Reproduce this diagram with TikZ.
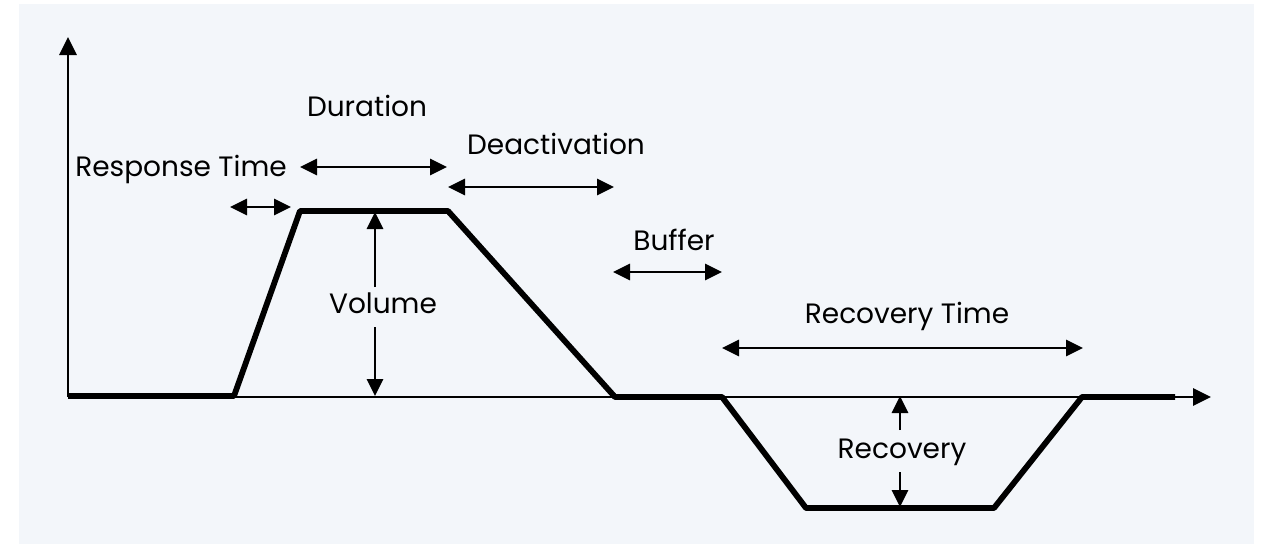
\documentclass[tikz,border=0pt]{standalone}
\usepackage{fontspec}
\setmainfont{Poppins}
\usetikzlibrary{arrows.meta}
\definecolor{bgc}{RGB}{243,246,250}
\begin{document}
\begin{tikzpicture}[x=1pt,y=-1pt,
  axis/.style={line width=2.8pt,-{Triangle[length=18pt,width=17pt]}},
  curve/.style={line width=5.8pt,line join=round,line cap=butt},
  dim/.style={line width=2.8pt,{Triangle[length=17pt,width=16pt]}-{Triangle[length=17pt,width=16pt]}},
  half/.style={line width=2.8pt,-{Triangle[length=17pt,width=16pt]}},
  lbl/.style={anchor=base,inner sep=0pt,font=\fontsize{28}{32}\selectfont}]
\useasboundingbox (0,0) rectangle (1263,544);
\fill[bgc] (19,4) rectangle (1254,544);
% axes
\coordinate (O) at (68,397);
\coordinate (ytip) at (68,37);
\coordinate (xtip) at (1211,397);
\draw[axis] (O) -- (ytip);
\draw[axis] (O) -- (xtip);
% profile
\coordinate (p0) at (68,396);
\coordinate (p1) at (234,396);
\coordinate (p2) at (300,211);
\coordinate (p3) at (448,211);
\coordinate (p4) at (615,397);
\coordinate (p5) at (722,397);
\coordinate (p6) at (806,508);
\coordinate (p7) at (994,508);
\coordinate (p8) at (1082,397);
\coordinate (p9) at (1175,397);
\draw[curve] (p0) -- (p1) -- (p2) -- (p3) -- (p4) -- (p5) -- (p6) -- (p7) -- (p8) -- (p9);
% labels
\node[lbl] (resp) at (181,176) {Response Time};
\node[lbl] (dur) at (367,116) {Duration};
\node[lbl] (deact) at (556,154) {Deactivation};
\node[lbl] (buf) at (674,250) {Buffer};
\node[lbl] (rtime) at (907,323) {Recovery Time};
\node[lbl] (vol) at (383,313) {Volume};
\node[lbl] (rec) at (902,458) {Recovery};
% dimension arrows
\coordinate (r1) at (230,207); \coordinate (r2) at (291,207);
\draw[dim] (r1) -- (r2);
\coordinate (d1) at (300,167); \coordinate (d2) at (447,167);
\draw[dim] (d1) -- (d2);
\coordinate (e1) at (448,187); \coordinate (e2) at (614,187);
\draw[dim] (e1) -- (e2);
\coordinate (b1) at (613,272); \coordinate (b2) at (722,272);
\draw[dim] (b1) -- (b2);
\coordinate (t1) at (722,348); \coordinate (t2) at (1083,348);
\draw[dim] (t1) -- (t2);
% volume
\coordinate (vt) at (375,212); \coordinate (va) at (375,287);
\coordinate (vb) at (375,396); \coordinate (vc) at (375,327);
\draw[half] (va) -- (vt);
\draw[half] (vc) -- (vb);
% recovery
\coordinate (rt) at (900,396); \coordinate (ra) at (900,430);
\coordinate (rb) at (900,507); \coordinate (rc) at (900,472);
\draw[half] (ra) -- (rt);
\draw[half] (rc) -- (rb);
\end{tikzpicture}
\end{document}
